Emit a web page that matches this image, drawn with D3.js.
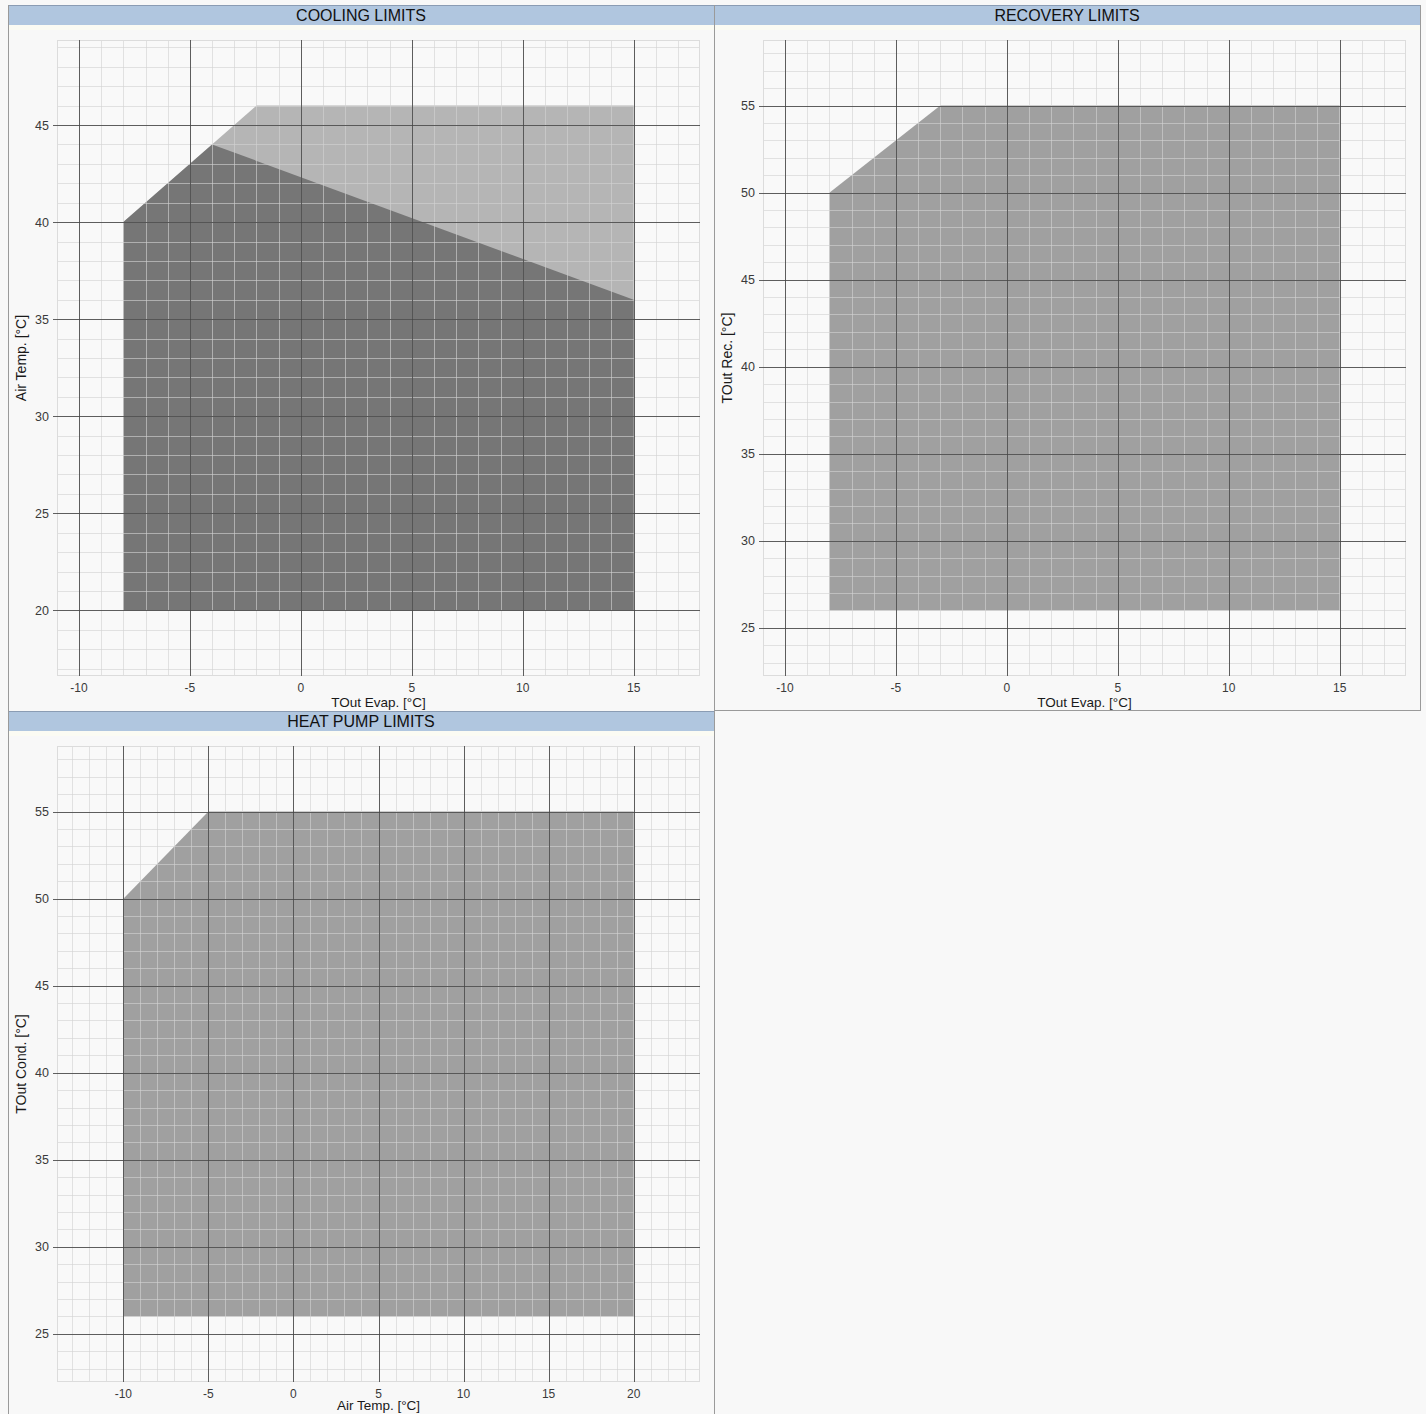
<!DOCTYPE html>
<html>
<head>
<meta charset="utf-8">
<script src="https://cdn.jsdelivr.net/npm/d3@7"></script>
<style>
  html, body { margin: 0; padding: 0; background: #f8f8f8; }
  svg { display: block; }
  text { font-family: "Liberation Sans", Arial, sans-serif; }
</style>
</head>
<body>
<svg id="chart" width="1426" height="1414"></svg>
<script>
// ---------- DATA ----------
const panelTitles = ["COOLING LIMITS", "RECOVERY LIMITS", "HEAT PUMP LIMITS"];
const xTitles = ["TOut Evap. [°C]", "TOut Evap. [°C]", "Air Temp. [°C]"];
const yTitles = ["Air Temp. [°C]", "TOut Rec. [°C]", "TOut Cond. [°C]"];

// Cooling: light (outer) envelope and dark (inner) envelope
const coolingLightX = [-8, -8, -2, 15, 15];
const coolingLightY = [20, 40, 46, 46, 20];
const coolingDarkX  = [-8, -8, -4, 15, 15];
const coolingDarkY  = [20, 40, 44, 36, 20];

// Recovery envelope
const recoveryX = [-8, -8, -3, 15, 15];
const recoveryY = [26, 50, 55, 55, 26];

// Heat pump envelope
const heatPumpX = [-10, -10, -5, 20, 20];
const heatPumpY = [26, 50, 55, 55, 26];

// Tick labels
const coolingXTicks  = [-10, -5, 0, 5, 10, 15];
const coolingYTicks  = [20, 25, 30, 35, 40, 45];
const recoveryXTicks = [-10, -5, 0, 5, 10, 15];
const recoveryYTicks = [25, 30, 35, 40, 45, 50, 55];
const heatPumpXTicks = [-10, -5, 0, 5, 10, 15, 20];
const heatPumpYTicks = [25, 30, 35, 40, 45, 50, 55];

// ---------- BUILD ----------
const zip = (xs, ys) => xs.map((x, i) => [x, ys[i]]);
const panels = [
  { title: panelTitles[0], xt: xTitles[0], yt: yTitles[0], ox: 8, oy: 5,
    polys: [ { pts: zip(coolingLightX, coolingLightY), fill: "#b5b5b5" },
             { pts: zip(coolingDarkX, coolingDarkY), fill: "#767676" } ],
    xTicks: coolingXTicks, yTicks: coolingYTicks },
  { title: panelTitles[1], xt: xTitles[1], yt: yTitles[1], ox: 714, oy: 5,
    polys: [ { pts: zip(recoveryX, recoveryY), fill: "#a0a0a0" } ],
    xTicks: recoveryXTicks, yTicks: recoveryYTicks },
  { title: panelTitles[2], xt: xTitles[2], yt: yTitles[2], ox: 8, oy: 711,
    polys: [ { pts: zip(heatPumpX, heatPumpY), fill: "#a0a0a0" } ],
    xTicks: heatPumpXTicks, yTicks: heatPumpYTicks }
];

const svg = d3.select("#chart");
svg.append("rect").attr("width", 1426).attr("height", 1414).attr("fill", "#f8f8f8");

const PW = 706;
const plotL = 49, plotT = 35, plotW = 643, plotH = 636;
const PAD = 0.13;

panels.forEach(p => {
  const g = svg.append("g").attr("transform", `translate(${p.ox},${p.oy})`);
  const allPts = p.polys.flatMap(q => q.pts);
  const xe = d3.extent(allPts, d => d[0]);
  const ye = d3.extent(allPts, d => d[1]);
  const xp = (xe[1] - xe[0]) * PAD, yp = (ye[1] - ye[0]) * PAD;
  const x = d3.scaleLinear().domain([xe[0] - xp, xe[1] + xp]).range([plotL, plotL + plotW]);
  const y = d3.scaleLinear().domain([ye[0] - yp, ye[1] + yp]).range([plotT + plotH, plotT]);

  // title bar
  g.append("rect").attr("x", 0).attr("y", 0).attr("width", PW).attr("height", 20)
    .attr("fill", "#b0c6df");
  g.append("line").attr("x1", 0).attr("x2", PW).attr("y1", 0.5).attr("y2", 0.5)
    .attr("stroke", "#8a9cb4");
  g.append("rect").attr("x", 0).attr("y", 20).attr("width", PW).attr("height", 5)
    .attr("fill", "#fbfbf3");
  g.append("text").attr("x", PW / 2).attr("y", 15.5).attr("text-anchor", "middle")
    .attr("font-size", 16).attr("fill", "#111").text(p.title);

  // plot background
  g.append("rect").attr("x", plotL).attr("y", plotT).attr("width", plotW).attr("height", plotH)
    .attr("fill", "#f9f9f9");

  // envelopes
  p.polys.forEach(q => {
    g.append("path").attr("d", d3.line().x(d => x(d[0])).y(d => y(d[1]))(q.pts) + "Z")
      .attr("fill", q.fill);
  });

  // minor grid
  const xd = x.domain(), yd = y.domain();
  const minorX = d3.range(Math.ceil(xd[0]), Math.floor(xd[1]) + 1);
  const minorY = d3.range(Math.ceil(yd[0]), Math.floor(yd[1]) + 1);
  const minor = g.append("g").attr("stroke", "rgb(210,210,210)").attr("stroke-opacity", 0.62)
    .attr("stroke-width", 1);
  minor.selectAll("line.mx").data(minorX).join("line")
    .attr("x1", d => Math.round(x(d)) + 0.5).attr("x2", d => Math.round(x(d)) + 0.5)
    .attr("y1", plotT).attr("y2", plotT + plotH);
  minor.selectAll("line.my").data(minorY).join("line")
    .attr("y1", d => Math.round(y(d)) + 0.5).attr("y2", d => Math.round(y(d)) + 0.5)
    .attr("x1", plotL).attr("x2", plotL + plotW);
  g.append("rect").attr("x", plotL + 0.5).attr("y", plotT + 0.5).attr("width", plotW - 1)
    .attr("height", plotH - 1).attr("fill", "none").attr("stroke", "#dcdcdc");

  // major grid
  const major = g.append("g").attr("stroke", "#454545").attr("stroke-opacity", 0.85);
  major.selectAll("line.vx").data(p.xTicks).join("line")
    .attr("x1", d => Math.round(x(d)) + 0.5).attr("x2", d => Math.round(x(d)) + 0.5)
    .attr("y1", plotT).attr("y2", plotT + plotH);
  major.selectAll("line.hy").data(p.yTicks).join("line")
    .attr("y1", d => Math.round(y(d)) + 0.5).attr("y2", d => Math.round(y(d)) + 0.5)
    .attr("x1", plotL - 4).attr("x2", plotL + plotW);

  // tick labels
  g.selectAll("text.xt").data(p.xTicks).join("text")
    .attr("x", d => x(d)).attr("y", plotT + plotH + 15.5).attr("text-anchor", "middle")
    .attr("font-size", 12).attr("fill", "#3a3a3a").text(d => d);
  g.selectAll("text.yt").data(p.yTicks).join("text")
    .attr("x", plotL - 8).attr("y", d => y(d) + 4.5).attr("text-anchor", "end")
    .attr("font-size", 12.5).attr("fill", "#3a3a3a").text(d => d);

  // axis titles
  const xtY = Math.min(plotT + plotH + 31, 1414 - p.oy - 4);
  g.append("text").attr("x", plotL + plotW / 2).attr("y", xtY)
    .attr("text-anchor", "middle").attr("font-size", 13.5).attr("fill", "#1a1a1a").text(p.xt);
  g.append("text").attr("transform", `translate(${plotL - 31},${plotT + plotH / 2}) rotate(-90)`)
    .attr("text-anchor", "middle").attr("font-size", 14).attr("fill", "#1a1a1a").text(p.yt);
});

// panel borders
const borders = [
  [8.5, 5, 8.5, 1414], [714.5, 5, 714.5, 1414], [1420.5, 5, 1420.5, 710],
  [714, 710.5, 1421, 710.5]
];
svg.selectAll("line.border").data(borders).join("line")
  .attr("x1", d => d[0]).attr("y1", d => d[1]).attr("x2", d => d[2]).attr("y2", d => d[3])
  .attr("stroke", "#9a9a9a");
</script>
</body>
</html>
